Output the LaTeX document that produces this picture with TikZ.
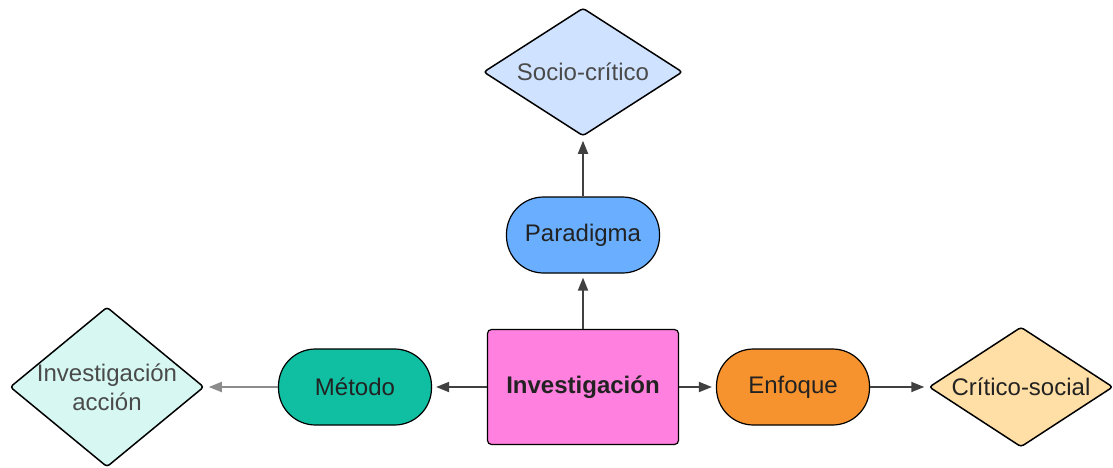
\documentclass[tikz,border=0pt]{standalone}
\usepackage{fontspec}
\setmainfont{Liberation Sans}
\usetikzlibrary{shapes.geometric,arrows.meta}
\definecolor{cSocio}{HTML}{CFE2FF}
\definecolor{cPara}{HTML}{6AAFFF}
\definecolor{cInv}{HTML}{FF80DF}
\definecolor{cMet}{HTML}{10BFA2}
\definecolor{cAcc}{HTML}{D7F8F2}
\definecolor{cEnf}{HTML}{F7932E}
\definecolor{cCrit}{HTML}{FFDFA5}
\definecolor{txt}{HTML}{222222}
\definecolor{txtg}{HTML}{4A4A4A}
\tikzset{
  dia/.style={diamond, draw=black, line width=1.5pt, inner sep=0pt, rounded corners=3pt},
  stad/.style={rectangle, draw=black, line width=1.2pt, minimum width=153pt, minimum height=76pt, rounded corners=37pt, text=txt},
  conn/.style={line width=1.8pt, draw=black!75, -{Triangle[length=13pt,width=10pt]}, shorten >=4pt},
  connG/.style={line width=1.8pt, draw=black!45, -{Triangle[length=13pt,width=10pt]}, shorten >=4pt},
}
\begin{document}
\begin{tikzpicture}[x=1pt,y=-1pt, font=\fontsize{24}{29}\selectfont]
\useasboundingbox (0,0) rectangle (1113,468);
\node[dia, fill=cSocio, minimum width=199pt, minimum height=128pt, label={[text=txtg]center:Socio-crítico}] (socio) at (583,72) {};
\node[stad, fill=cPara] (para) at (583,235) {Paradigma};
\node[rectangle, draw=black, line width=1.2pt, fill=cInv, minimum width=191pt, minimum height=115pt, rounded corners=4pt, text=txt, font=\fontsize{24}{29}\selectfont\bfseries] (inv) at (583,387) {Investigación};
\node[stad, fill=cMet] (met) at (355,387) {Método};
\node[dia, fill=cAcc, minimum width=194pt, minimum height=160pt, label={[text=txtg, align=center]center:Investigación\\acción}] (acc) at (107,387) {};
\node[stad, fill=cEnf] (enf) at (793,387) {Enfoque};
\node[dia, fill=cCrit, minimum width=184pt, minimum height=120pt, label={[text=txt]center:Crítico-social}] (crit) at (1021,387) {};
\draw[conn] (inv) -- (para);
\draw[conn] (para) -- (socio);
\draw[conn] (inv) -- (met);
\draw[connG] (met) -- (acc);
\draw[conn] (inv) -- (enf);
\draw[conn] (enf) -- (crit);
\end{tikzpicture}
\end{document}
